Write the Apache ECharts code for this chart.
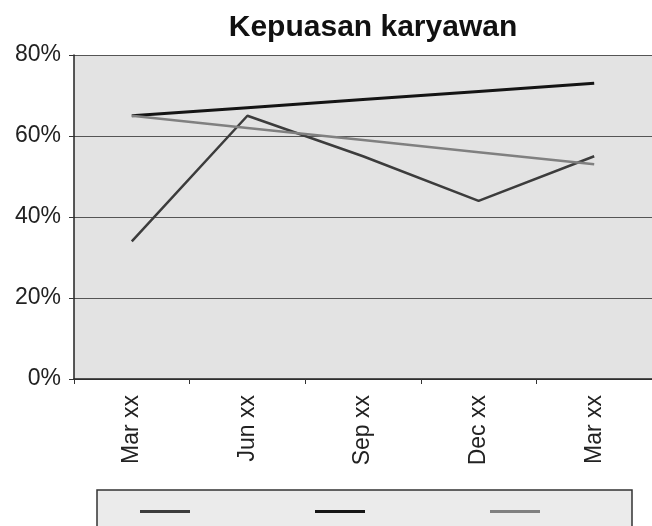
<!DOCTYPE html>
<html>
<head>
<meta charset="utf-8">
<script src="https://cdn.jsdelivr.net/npm/echarts@6/dist/echarts.min.js"></script>
<style>
  html, body { margin: 0; padding: 0; background: #fff; }
  #chart { width: 652px; height: 526px; }
</style>
</head>
<body>
<div id="chart"></div>
<script>
// Data
const categories = ['Mar xx', 'Jun xx', 'Sep xx', 'Dec xx', 'Mar xx'];
const seriesNames = ['Seri 1', 'Seri 2', 'Seri 3'];
const valuesA = [34, 65, 55, 44, 55];   // zigzag line
const valuesB = [65, 67, 69, 71, 73];   // black rising line
const valuesC = [65, 62, 59, 56, 53];   // light grey falling line
const yTicks = [0, 20, 40, 60, 80];

const font = 'Liberation Sans, Arial, sans-serif';

const option = {
    backgroundColor: '#fff',
    animation: false,
    title: {
        text: 'Kepuasan karyawan',
        left: 368,
        top: 8,
        textAlign: 'center',
        textStyle: { fontFamily: font, fontSize: 30, fontWeight: 'bold', color: '#111' }
    },
    legend: {
        left: 97,
        top: 490,
        padding: [20, 92, 30, 43],
        itemGap: 125,
        itemWidth: 50,
        itemHeight: 3,
        icon: 'rect',
        backgroundColor: '#ebebeb',
        borderColor: '#333',
        borderWidth: 1.5,
        borderRadius: 0,
        formatter: () => '',
        data: seriesNames
    },
    grid: {
        left: 74,
        top: 55,
        width: 582,
        height: 324,
        show: true,
        backgroundColor: '#e3e3e3',
        borderWidth: 0
    },
    xAxis: {
        type: 'category',
        data: categories,
        boundaryGap: true,
        axisLine: { lineStyle: { color: '#222', width: 1.5 } },
        axisTick: { show: true, length: 5, lineStyle: { color: '#333' } },
        axisLabel: {
            rotate: 90,
            margin: 16,
            fontFamily: font,
            fontSize: 23,
            color: '#222'
        }
    },
    yAxis: {
        type: 'value',
        min: yTicks[0],
        max: yTicks[yTicks.length - 1],
        interval: 20,
        axisLine: { show: true, lineStyle: { color: '#222', width: 1.5 } },
        axisTick: { show: true, length: 5, lineStyle: { color: '#333' } },
        axisLabel: {
            formatter: '{value}%',
            margin: 13,
            fontFamily: font,
            fontSize: 23,
            color: '#222'
        },
        splitLine: { show: true, lineStyle: { color: '#555', width: 1.2 } }
    },
    series: [
        {
            name: seriesNames[0],
            type: 'line',
            data: valuesA,
            showSymbol: false,
            color: '#3c3c3c',
            lineStyle: { color: '#3c3c3c', width: 2.5 }
        },
        {
            name: seriesNames[1],
            type: 'line',
            data: valuesB,
            showSymbol: false,
            color: '#151515',
            lineStyle: { color: '#151515', width: 3 }
        },
        {
            name: seriesNames[2],
            type: 'line',
            data: valuesC,
            showSymbol: false,
            color: '#808080',
            lineStyle: { color: '#808080', width: 2.5 }
        }
    ]
};

const chart = echarts.init(document.getElementById('chart'));
chart.setOption(option);
</script>
</body>
</html>
